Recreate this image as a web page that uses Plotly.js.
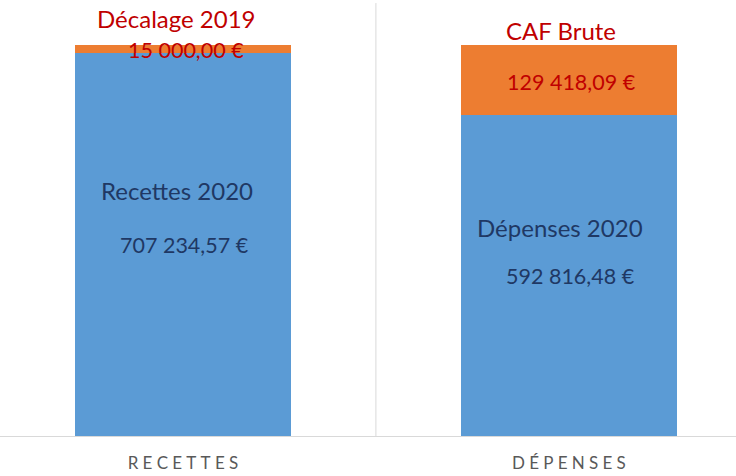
<!DOCTYPE html>
<html>
<head>
<meta charset="utf-8">
<script src="https://cdn.plot.ly/plotly-3.0.1.min.js"></script>
<style>html,body{margin:0;padding:0;background:#fff;}#chart{width:736px;height:476px;}</style>
</head>
<body>
<div id="chart"></div>
<script>
const categories = ['RECETTES', 'DÉPENSES'];
const baseValues = [707234.57, 592816.48];
const topValues = [15000.00, 129418.09];
const baseNames = ['Recettes 2020', 'Dépenses 2020'];
const topNames = ['Décalage 2019', 'CAF Brute'];

const BLUE = '#5b9bd5', ORANGE = '#ed7d31', RED = '#c00000', NAVY = '#1f3864';
const FONT = 'Lato, "Open Sans", sans-serif';

function fmt(v) {
  const parts = v.toFixed(2).split('.');
  const intPart = parts[0].replace(/\B(?=(\d{3})+(?!\d))/g, ' ');
  return intPart + ',' + parts[1] + ' €';
}
function spaced(s) { return s.split('').join('\u2005'); }

const traces = [
  {type: 'bar', x: categories, y: baseValues, marker: {color: BLUE}, width: 0.56, hoverinfo: 'skip', name: 'base'},
  {type: 'bar', x: categories, y: topValues, marker: {color: ORANGE}, width: 0.56, hoverinfo: 'skip', name: 'top'}
];

const annotations = [];
const off = [
  {bn: [-6, 54], bv: [2, 0], tn: [-6, 27], tv: [3, -1]},
  {bn: [-9, 48], bv: [2, 0], tn: [-8, 15], tv: [3, -2]}
];
categories.forEach((c, i) => {
  const bmid = baseValues[i] / 2;
  const tmid = baseValues[i] + topValues[i] / 2;
  const total = baseValues[i] + topValues[i];
  const o = off[i];
  annotations.push({x: c, y: bmid, text: baseNames[i], showarrow: false, xshift: o.bn[0], yshift: o.bn[1], font: {family: FONT, size: 24, color: NAVY}});
  annotations.push({x: c, y: bmid, text: fmt(baseValues[i]), showarrow: false, xshift: o.bv[0], yshift: o.bv[1], font: {family: FONT, size: 21.5, color: NAVY}});
  annotations.push({x: c, y: total, text: topNames[i], showarrow: false, xshift: o.tn[0], yshift: o.tn[1], font: {family: FONT, size: 24, color: RED}});
  annotations.push({x: c, y: tmid, text: fmt(topValues[i]), showarrow: false, xshift: o.tv[0], yshift: o.tv[1], font: {family: FONT, size: 21.5, color: RED}});
});

const layout = {
  width: 736, height: 476,
  margin: {l: 0, r: 0, t: 0, b: 40},
  paper_bgcolor: '#ffffff', plot_bgcolor: '#ffffff',
  barmode: 'stack',
  showlegend: false,
  xaxis: {
    type: 'category', categoryorder: 'array', categoryarray: categories,
    tickvals: categories, ticktext: categories.map(spaced),
    range: [-0.474, 1.433], showgrid: false, zeroline: false,
    showline: true, linecolor: '#d9d9d9', linewidth: 1, ticks: '',
    ticklabelstandoff: 12,
    tickfont: {family: FONT, size: 17, color: '#595959'}
  },
  yaxis: {visible: false, range: [0, 805400], showgrid: false, zeroline: false},
  shapes: [{type: 'line', xref: 'x', yref: 'paper', x0: 0.5, x1: 0.5, y0: 0, y1: 0.993, line: {color: '#d9d9d9', width: 1}}],
  annotations: annotations
};

Plotly.newPlot('chart', traces, layout, {staticPlot: true, displayModeBar: false});
</script>
</body>
</html>
